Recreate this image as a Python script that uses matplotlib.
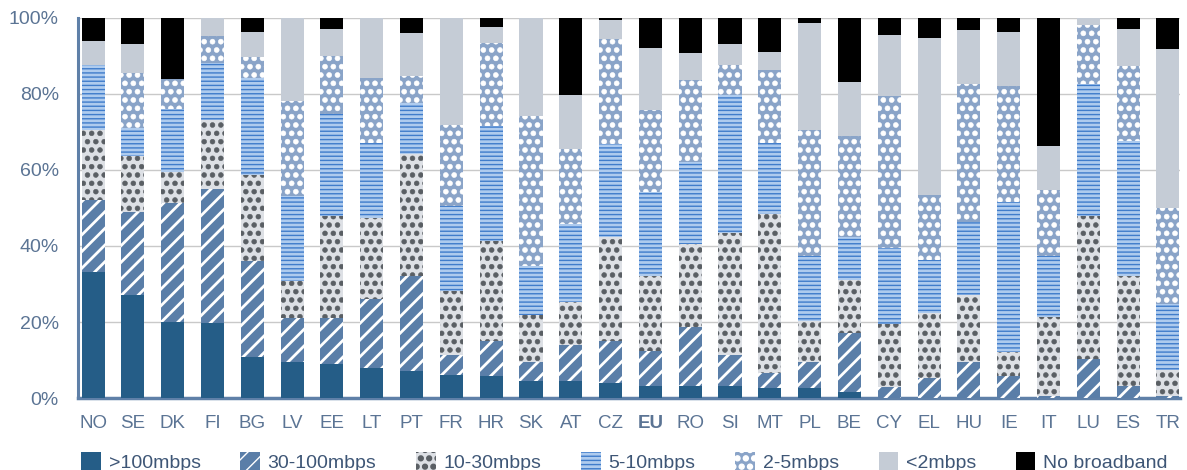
import matplotlib
matplotlib.use("Agg")
import matplotlib.pyplot as plt
from matplotlib import hatch as mhatch
import numpy as np

countries = ["NO", "SE", "DK", "FI", "BG", "LV", "EE", "LT", "PT", "FR", "HR", "SK", "AT", "CZ",
             "EU", "RO", "SI", "MT", "PL", "BE", "CY", "EL", "HU", "IE", "IT", "LU", "ES", "TR"]

# share of households per speed band (%)
over100 = [33.1, 27.2, 19.9, 19.7, 10.7, 9.4, 8.9, 7.9, 7.2, 6.1, 5.7, 4.6, 4.6, 4.1,
           3.1, 3.1, 3.1, 2.6, 2.6, 1.6, 0.0, 0.0, 0.0, 0.0, 0.0, 0.0, 0.0, 0.0]
mb30_100 = [19.1, 21.7, 31.4, 35.3, 25.4, 11.7, 12.2, 18.2, 24.8, 5.3, 9.2, 4.8, 9.4, 11.0,
            9.2, 15.5, 8.3, 4.0, 6.8, 15.5, 2.8, 5.4, 9.4, 5.9, 0.5, 10.3, 3.1, 0.5]
mb10_30 = [18.4, 14.7, 8.1, 18.2, 22.5, 9.6, 26.9, 21.3, 32.3, 16.8, 26.3, 12.5, 11.4, 27.3,
           19.9, 21.8, 32.0, 41.8, 10.8, 14.0, 16.8, 17.0, 17.6, 6.1, 20.8, 37.5, 28.9, 7.0]
mb5_10 = [17.1, 7.5, 16.5, 15.0, 25.6, 22.4, 26.6, 19.7, 13.2, 22.2, 30.3, 12.9, 20.5, 24.3,
          22.0, 21.7, 36.4, 18.7, 17.1, 11.3, 19.9, 13.8, 19.2, 39.5, 16.2, 34.7, 35.5, 17.3]
mb2_5 = [0.0, 14.3, 8.0, 7.0, 5.4, 25.0, 15.5, 17.1, 7.3, 21.5, 21.9, 39.5, 19.5, 27.8,
         21.5, 21.5, 7.9, 19.3, 33.3, 26.6, 39.9, 17.3, 36.3, 30.5, 17.1, 15.5, 19.8, 25.2]
under2 = [6.2, 7.6, 0.0, 4.8, 6.7, 21.9, 7.0, 15.8, 11.3, 28.1, 4.1, 25.7, 14.2, 4.9,
          16.4, 7.2, 5.3, 4.6, 28.1, 14.1, 16.0, 41.2, 14.4, 14.3, 11.6, 2.0, 9.8, 41.7]
no_bb = [6.1, 7.0, 16.1, 0.0, 3.7, 0.0, 2.9, 0.0, 3.9, 0.0, 2.5, 0.0, 20.4, 0.6,
         7.9, 9.2, 7.0, 9.0, 1.3, 16.9, 4.6, 5.3, 3.1, 3.7, 33.8, 0.0, 2.9, 8.3]


# bigger filled dots for '.' and 'o' hatches (the stock ones are tiny / hollow)
class BigDots(mhatch.Circles):
    size = 0.29
    filled = True

    def __init__(self, hatch, density):
        self.num_rows = hatch.count('.') * density
        super().__init__(hatch, density)


class WhiteSpots(mhatch.Circles):
    size = 0.30
    filled = True

    def __init__(self, hatch, density):
        self.num_rows = hatch.count('o') * density
        super().__init__(hatch, density)


mhatch._hatch_types = [t for t in mhatch._hatch_types
                       if t not in (mhatch.SmallCircles, mhatch.SmallFilledCircles)]
mhatch._hatch_types += [BigDots, WhiteSpots]

# label, values, face, hatch colour, hatch, hatch linewidth
series = [
    (">100mbps", over100, "#255d87", "#255d87", None, 0.0),
    ("30-100mbps", mb30_100, "#5a7ea8", "white", "//", 2.0),
    ("10-30mbps", mb10_30, "#dde0e5", "#5a5f64", "..", 0.4),
    ("5-10mbps", mb5_10, "#aecbee", "#3f7ccb", "----", 1.0),
    ("2-5mbps", mb2_5, "#8aa4c8", "white", "oo", 0.4),
    ("<2mbps", under2, "#c5ccd6", "#c5ccd6", None, 0.0),
    ("No broadband", no_bb, "#000000", "#000000", None, 0.0),
]

plt.rcParams["font.family"] = ["Liberation Sans", "DejaVu Sans"]
axis_col = "#5f80a8"
text_col = "#5b7494"

fig = plt.figure(figsize=(11.87, 4.70), dpi=100)
ax = fig.add_axes([0.066, 0.153, 0.928, 0.809])

x = np.arange(len(countries))
bottom = np.zeros(len(countries))
handles = []
for label, vals, face, edge, hatch, hlw in series:
    vals = np.array(vals)
    with plt.rc_context({"hatch.linewidth": hlw if hlw else 1.0}):
        bars = ax.bar(x, vals, width=0.58, bottom=bottom, color=face, edgecolor=edge,
                      hatch=hatch, linewidth=0, label=label, zorder=3)
    if hatch:
        for b in bars:
            if hasattr(b, "set_hatch_linewidth"):
                b.set_hatch_linewidth(hlw)
    handles.append(bars)
    bottom += vals

ax.set_ylim(0, 100)
ax.set_xlim(-0.37, len(countries) - 0.7)
ax.set_yticks(np.arange(0, 101, 20))
ax.set_yticklabels([f"{v}%" for v in range(0, 101, 20)])
ax.yaxis.grid(True, color="#c9c9c9", linewidth=1.0, zorder=0)
ax.set_axisbelow(True)
ax.set_xticks(x)
ax.set_xticklabels(countries)
for lbl in ax.get_xticklabels():
    if lbl.get_text() == "EU":
        lbl.set_fontweight("bold")
        lbl.set_color("#3d5f8a")
ax.tick_params(axis="both", length=0, labelsize=13.5, colors=text_col)
ax.tick_params(axis="x", pad=12)
ax.tick_params(axis="y", labelsize=14, pad=14)

for side in ["top", "right"]:
    ax.spines[side].set_visible(False)
ax.spines["left"].set_color(axis_col)
ax.spines["left"].set_linewidth(2.2)
ax.spines["bottom"].set_color(axis_col)
ax.spines["bottom"].set_linewidth(2.5)

leg = fig.legend(handles=handles, loc="lower left", bbox_to_anchor=(0.062, -0.02), ncol=7,
                 frameon=False, fontsize=14, handlelength=1.0, handleheight=1.0,
                 handletextpad=0.4, columnspacing=2.05, borderaxespad=0)
for t in leg.get_texts():
    t.set_color("#3e5676")

fig.savefig("out.png", dpi=100)
